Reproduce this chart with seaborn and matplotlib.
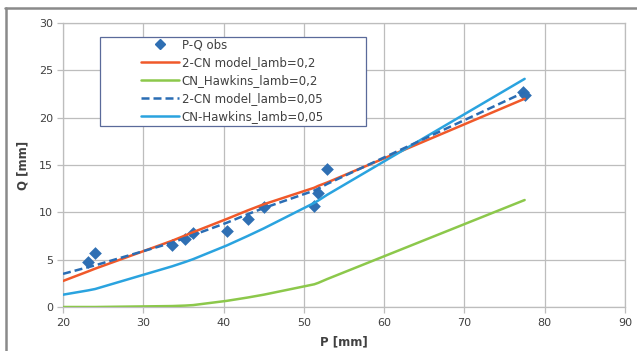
import matplotlib
matplotlib.use("Agg")
import matplotlib.pyplot as plt
import seaborn as sns
import pandas as pd
from matplotlib.lines import Line2D
from matplotlib.patches import Rectangle

# ---- data ----
P_obs = [23.1, 24.0, 33.6, 35.2, 36.2, 40.4, 43.0, 45.0, 51.3, 51.8, 52.9, 77.3, 77.6]
Q_obs = [4.75, 5.75, 6.6, 7.2, 7.8, 8.0, 9.3, 10.6, 10.7, 12.0, 14.6, 22.7, 22.4]

P_line = [20.0, 23.1, 24.0, 33.6, 35.2, 36.2, 40.4, 43.0, 45.0, 51.3, 51.8, 52.9, 77.5]
Q_2cn_02 = [2.75, 3.75, 4.05, 7.0, 7.55, 7.9, 9.3, 10.2, 10.85, 12.6, 12.8, 13.15, 22.0]
Q_hawk_02 = [0.0, 0.0, 0.0, 0.1, 0.15, 0.2, 0.65, 1.0, 1.3, 2.4, 2.55, 2.95, 11.3]
Q_2cn_005 = [3.5, 4.2, 4.4, 6.8, 7.3, 7.6, 8.9, 9.8, 10.45, 12.3, 12.5, 13.0, 22.7]
Q_hawk_005 = [1.3, 1.75, 1.9, 4.3, 4.75, 5.05, 6.5, 7.5, 8.3, 11.0, 11.25, 11.85, 24.1]

labels = ["P-Q obs", "2-CN model_lamb=0,2", "CN_Hawkins_lamb=0,2",
          "2-CN model_lamb=0,05", "CN-Hawkins_lamb=0,05"]
x_ticks = [20, 30, 40, 50, 60, 70, 80, 90]
y_ticks = [0, 5, 10, 15, 20, 25, 30]

c_obs = "#2f6fb3"
c_red = "#f0592a"
c_green = "#8cc84b"
c_dblue = "#2a6db4"
c_lblue = "#2aa3df"
grid_c = "#bdbdbd"
text_c = "#404040"

sns.set_theme(style="white")
plt.rcParams["font.family"] = ["DejaVu Sans"]

fig = plt.figure(figsize=(6.37, 3.51), dpi=100)
ax = fig.add_axes([63/637, 1-307/351, (625-63)/637, (307-23)/351])

sns.scatterplot(x=P_obs, y=Q_obs, marker="D", s=42, color=c_obs, edgecolor=c_obs,
                linewidth=0, ax=ax, zorder=3)
lw = 1.8
sns.lineplot(x=P_line, y=Q_2cn_02, color=c_red, lw=lw, ax=ax, sort=False,
             estimator=None, zorder=4)
sns.lineplot(x=P_line, y=Q_hawk_02, color=c_green, lw=lw, ax=ax, sort=False,
             estimator=None, zorder=4)
sns.lineplot(x=P_line, y=Q_2cn_005, color=c_dblue, lw=lw, ax=ax, sort=False,
             estimator=None, zorder=5)
ax.get_lines()[-1].set_linestyle((0, (3.2, 1.6)))
sns.lineplot(x=P_line, y=Q_hawk_005, color=c_lblue, lw=lw, ax=ax, sort=False,
             estimator=None, zorder=4)

ax.set_xlim(20, 90)
ax.set_ylim(0, 30)
ax.set_xticks(x_ticks)
ax.set_yticks(y_ticks)
ax.grid(True, color=grid_c, lw=0.9)
ax.set_axisbelow(True)
for s in ax.spines.values():
    s.set_color(grid_c)
    s.set_linewidth(0.9)
ax.tick_params(axis="both", which="major", direction="out", length=4, width=0.9,
               color=grid_c, labelsize=8, labelcolor=text_c, pad=3,
               bottom=True, left=True)
ax.tick_params(axis="x", pad=4)
ax.set_xlabel("P [mm]", fontsize=8.5, fontweight="bold", color=text_c, labelpad=5)
ax.set_ylabel("Q [mm]", fontsize=8.5, fontweight="bold", color=text_c, labelpad=7)

handles = [
    Line2D([], [], ls="none", marker="D", ms=5.5, color=c_obs),
    Line2D([], [], color=c_red, lw=lw),
    Line2D([], [], color=c_green, lw=lw),
    Line2D([], [], color=c_dblue, lw=lw, ls=(0, (3.2, 1.6))),
    Line2D([], [], color=c_lblue, lw=lw),
]
x0 = (100-63)/562
x1 = (366-63)/562
yt = (307-37)/284
yb = (307-126)/284
leg = ax.legend(handles, labels, loc="upper left",
                bbox_to_anchor=((141-63)/562, (307-38.5)/284),
                frameon=False, fontsize=8.5, handlelength=3.2, handletextpad=0.25,
                labelspacing=0.42, borderpad=0, borderaxespad=0)
for t in leg.get_texts():
    t.set_color(text_c)
rect = Rectangle((x0, yb), x1-x0, yt-yb, transform=ax.transAxes, fill=True,
                 facecolor="white", edgecolor="#5a6a9a", lw=0.9, zorder=6)
ax.add_patch(rect)
leg.set_zorder(7)

# outer chart border (top and left visible)
fig.add_artist(Line2D([5/637, 1], [1-8/351, 1-8/351], color="#8a8a8a", lw=1.8,
                      transform=fig.transFigure))
fig.add_artist(Line2D([6/637, 6/637], [0, 1-8/351], color="#8a8a8a", lw=1.8,
                      transform=fig.transFigure))

fig.savefig("out.png", dpi=100)
